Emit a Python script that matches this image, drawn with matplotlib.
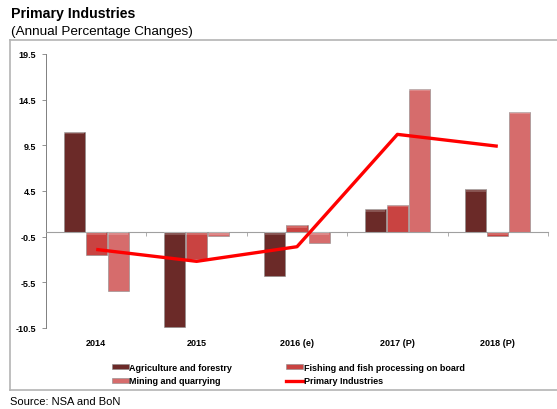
import matplotlib.pyplot as plt
import matplotlib.patches as mpatches
from matplotlib.lines import Line2D
import numpy as np

plt.rcParams['font.family'] = ['Liberation Sans', 'DejaVu Sans']

# annual percentage changes by sub-sector
years = ['2014', '2015', '2016 (e)', '2017 (P)', '2018 (P)']
agriculture = [11.0, -10.4, -4.8, 2.5, 4.7]
fishing = [-2.5, -2.9, 0.8, 3.0, -0.4]
mining = [-6.4, -0.4, -1.2, 15.7, 13.2]
primary = [-1.9, -3.2, -1.6, 10.7, 9.4]
yticks = [-10.5, -5.5, -0.5, 4.5, 9.5, 14.5, 19.5]

col_agri = '#6b2a28'
col_fish = '#c94341'
col_mine = '#d66c6c'

fig = plt.figure(figsize=(5.57, 4.10), dpi=100)
ax = fig.add_axes([46 / 557, 1 - 329 / 410, 502 / 557, 274 / 410])

x = np.arange(len(years))
w = 0.21
for off, vals, c in [(-0.22, agriculture, col_agri), (0, fishing, col_fish), (0.22, mining, col_mine)]:
    ax.bar(x + off, vals, width=w, color=c, edgecolor='#8a8a8a', linewidth=0.4, zorder=2)
    # lighter band along the top edge of every bar for the bevelled look
    for xi, v in zip(x + off, vals):
        top = max(v, 0)
        cap = min(0.3, abs(v))
        ax.bar(xi, cap, width=w * 0.96, bottom=top - cap, color='white', alpha=0.2,
               linewidth=0, zorder=3)

ax.plot(x, primary, color='#ff0000', linewidth=2.4, solid_capstyle='butt', zorder=4)

ax.set_xlim(-0.5, len(years) - 0.5)
ax.set_ylim(-10.5, 19.5)
ax.set_yticks(yticks)
ax.set_yticklabels([f'{t:.1f}' for t in yticks], fontsize=6.5, fontweight='bold')
ax.tick_params(axis='y', length=3, width=0.6, color='#808080', pad=4)

ax.spines['top'].set_visible(False)
ax.spines['right'].set_visible(False)
ax.spines['left'].set_color('#808080')
ax.spines['left'].set_linewidth(0.7)
ax.spines['bottom'].set_position(('data', 0))
ax.spines['bottom'].set_color('#a0a0a0')
ax.spines['bottom'].set_linewidth(0.8)
ax.set_xticks(np.arange(len(years) + 1) - 0.5)
ax.set_xticklabels([])
ax.tick_params(axis='x', length=3, width=0.6, color='#a0a0a0', direction='out')

for xi, lab in zip(x, years):
    ax.text(xi, -0.035, lab, transform=ax.get_xaxis_transform(), ha='center', va='top',
            fontsize=6.5, fontweight='bold')

# legend
handles = [
    mpatches.Patch(facecolor=col_agri, edgecolor='#8a8a8a', linewidth=0.4),
    mpatches.Patch(facecolor=col_fish, edgecolor='#8a8a8a', linewidth=0.4),
    mpatches.Patch(facecolor=col_mine, edgecolor='#8a8a8a', linewidth=0.4),
    Line2D([], [], color='#ff0000', linewidth=2.4),
]
labels = ['Agriculture and forestry', 'Fishing and fish processing on board',
          'Mining and quarrying', 'Primary Industries']
order = [0, 2, 1, 3]
fig.legend([handles[i] for i in order], [labels[i] for i in order], ncol=2,
           loc='center left', bbox_to_anchor=(107 / 557, 1 - 375 / 410),
           frameon=False, prop={'size': 6.5, 'weight': 'bold'},
           handlelength=1.9, handleheight=0.5, handletextpad=0.05,
           columnspacing=6.0, labelspacing=0.55, borderpad=0)

# frame around the chart area
frame = '#b4b4b4'
fig.add_artist(Line2D([10 / 557, 1], [1 - 41 / 410] * 2, color=frame, linewidth=1.2))
fig.add_artist(Line2D([10 / 557, 1], [1 - 391 / 410] * 2, color=frame, linewidth=1.2))
fig.add_artist(Line2D([10 / 557] * 2, [1 - 41 / 410, 1 - 391 / 410], color=frame, linewidth=1.2))

fig.text(11 / 557, 1 - 14 / 410, 'Primary Industries', fontsize=10.2, fontweight='bold', va='center')
fig.text(11 / 557, 1 - 32 / 410, '(Annual Percentage Changes)', fontsize=9.7, va='center')
fig.text(10 / 557, 1 - 402 / 410, 'Source: NSA and BoN', fontsize=8, va='center')

fig.savefig('out.png', dpi=100)
